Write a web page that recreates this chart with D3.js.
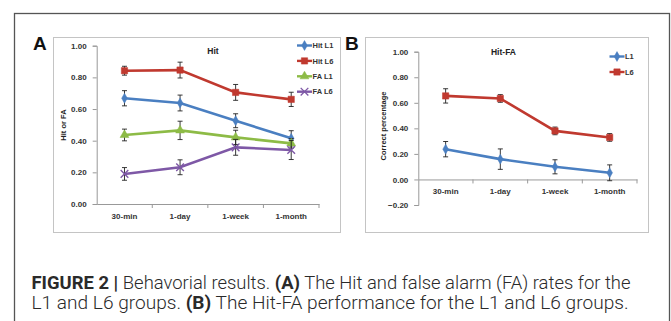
<!DOCTYPE html>
<html><head><meta charset="utf-8">
<script src="https://cdn.jsdelivr.net/npm/d3@7"></script>
<style>body{margin:0;background:#fff}svg{display:block}</style>
</head><body><svg id="c" width="671" height="321"></svg>
<script>
const categories = ["30-min","1-day","1-week","1-month"];
const yTicksA = [0,0.2,0.4,0.6,0.8,1.0];
const yTicksB = [-0.2,0,0.2,0.4,0.6,0.8,1.0];
const hitL1 = [0.668,0.638,0.526,0.415];
const hitL1Err = [0.048,0.05,0.044,0.048];
const hitL6 = [0.842,0.846,0.705,0.661];
const hitL6Err = [0.028,0.05,0.05,0.045];
const faL1 = [0.436,0.465,0.421,0.383];
const faL1Err = [0.037,0.058,0.045,0.03];
const faL6 = [0.19,0.232,0.358,0.341];
const faL6Err = [0.04,0.047,0.05,0.06];
const hfL1 = [0.237,0.159,0.099,0.052];
const hfL1Err = [0.06,0.08,0.055,0.062];
const hfL6 = [0.654,0.634,0.38,0.329];
const hfL6Err = [0.056,0.03,0.03,0.03];

const svg = d3.select("#c");
const FONT = "Liberation Sans, Arial, sans-serif";
const CAPFONT = "Roboto, Liberation Sans, sans-serif";
// outer frame
svg.append("rect").attr("x",14.5).attr("y",13.5).attr("width",655).attr("height",330)
  .attr("fill","none").attr("stroke","#555").attr("stroke-width",1.3);

const COL = {blue:"#4a7fc1", red:"#c0392f", green:"#8dbb46", purple:"#7e58a6"};

function symbolPath(kind){
  if(kind==="diamond") return d3.symbol().type(d3.symbolDiamond).size(28)();
  if(kind==="square") return d3.symbol().type(d3.symbolSquare).size(40)();
  if(kind==="triangle") return d3.symbol().type(d3.symbolTriangle).size(34)();
  return d3.symbol().type(d3.symbolTimes).size(40)();
}

function panel(opt){
  const g = svg.append("g");
  g.append("rect").attr("x",opt.box[0]+0.5).attr("y",opt.box[1]+0.5).attr("width",opt.box[2]).attr("height",opt.box[3])
    .attr("fill","#fff").attr("stroke","#c4c4c4").attr("stroke-width",1);
  svg.append("text").attr("x",opt.letter[0]).attr("y",opt.letter[1]).text(opt.letterText)
    .attr("font-family",FONT).attr("font-weight","bold").attr("font-size",19).attr("fill","#111");
  const x = d3.scaleBand().domain(categories).range(opt.xr).paddingInner(0).paddingOuter(0);
  const y = d3.scaleLinear().domain(opt.yd).range(opt.yr);
  // y axis
  const ya = g.append("g").attr("transform",`translate(${opt.xr[0]},0)`)
    .call(d3.axisLeft(y).tickValues(opt.yticks).tickFormat(d3.format(".2f")).tickSize(4).tickPadding(6));
  ya.select(".domain").attr("stroke","#999").attr("d",`M-4,${y(opt.yd[0])+0.5}H0.5V${y(opt.yd[1])+0.5}H-4`);
  ya.selectAll(".tick line").attr("stroke","#999");
  ya.selectAll("text").attr("font-family",FONT).attr("font-weight","bold").attr("font-size",8).attr("fill","#333");
  // x axis at y=0
  const xa = g.append("g").attr("transform",`translate(0,${y(0)})`)
    .call(d3.axisBottom(x).tickSize(0).tickPadding(opt.xpad));
  xa.select(".domain").attr("stroke","#999");
  xa.selectAll("text").attr("font-family",FONT).attr("font-weight","bold").attr("font-size",8).attr("fill","#333");
  xa.selectAll(".bt").data(categories.slice(1).concat(["end"])).enter().append("line")
    .attr("x1",(d,i)=> i<3 ? x(d) : opt.xr[1]).attr("x2",(d,i)=> i<3 ? x(d) : opt.xr[1])
    .attr("y1",0).attr("y2",4).attr("stroke","#999");
  // title
  g.append("text").attr("x",opt.title[0]).attr("y",opt.title[1]).attr("text-anchor","middle")
    .text(opt.titleText).attr("font-family",FONT).attr("font-weight","bold").attr("font-size",8.5).attr("fill","#222");
  // y label
  g.append("text").attr("transform",`translate(${opt.ylab[0]},${opt.ylab[1]}) rotate(-90)`).attr("text-anchor","middle")
    .text(opt.ylabText).attr("font-family",FONT).attr("font-weight","bold").attr("font-size",7.5).attr("fill","#222");
  // series
  opt.series.forEach(s=>{
    const pts = categories.map((c,i)=>({c, v:s.vals[i], e:s.err[i]}));
    const cx = d=> x(d.c)+x.bandwidth()/2;
    g.append("path").datum(pts).attr("fill","none").attr("stroke",s.color).attr("stroke-width",2.6)
      .attr("d", d3.line().x(cx).y(d=>y(d.v)));
    const eb = g.append("g");
    pts.forEach(d=>{
      const xx = cx(d);
      eb.append("line").attr("x1",xx).attr("x2",xx).attr("y1",y(d.v+d.e)).attr("y2",y(d.v-d.e)).attr("stroke","#222").attr("stroke-width",0.9);
      [d.v+d.e, d.v-d.e].forEach(v=> eb.append("line").attr("x1",xx-2.5).attr("x2",xx+2.5).attr("y1",y(v)).attr("y2",y(v)).attr("stroke","#222").attr("stroke-width",0.9));
    });
    g.selectAll(null).data(pts).enter().append("path")
      .attr("transform",d=>`translate(${cx(d)},${y(d.v)})`)
      .attr("d",symbolPath(s.marker))
      .attr("fill", s.marker==="x" ? "none" : s.color)
      .attr("stroke", s.color).attr("stroke-width", s.marker==="x" ? 1.4 : 0.5);
  });
  // legend
  opt.series.forEach((s,i)=>{
    const ly = opt.leg[1] + i*opt.legStep;
    g.append("line").attr("x1",opt.leg[0]).attr("x2",opt.leg[0]+15).attr("y1",ly).attr("y2",ly).attr("stroke",s.color).attr("stroke-width",2.4);
    g.append("path").attr("transform",`translate(${opt.leg[0]+7.5},${ly})`).attr("d",symbolPath(s.marker))
      .attr("fill", s.marker==="x" ? "none" : s.color).attr("stroke",s.color).attr("stroke-width", s.marker==="x"?1.3:0.5);
    g.append("text").attr("x",opt.leg[0]+15.5).attr("y",ly+2.7).text(s.name)
      .attr("font-family",FONT).attr("font-weight","bold").attr("font-size",7.5).attr("fill","#333");
  });
}

panel({
  box:[53,37,287,195], letter:[33,50], letterText:"A",
  xr:[96.7,319], yd:[0,1], yr:[204,45.7], yticks:yTicksA, xpad:9,
  title:[213,53.5], titleText:"Hit", ylab:[66,125], ylabText:"Hit or FA",
  leg:[297,45.5], legStep:15.4,
  series:[
    {name:"Hit L1", vals:hitL1, err:hitL1Err, color:COL.blue, marker:"diamond"},
    {name:"Hit L6", vals:hitL6, err:hitL6Err, color:COL.red, marker:"square"},
    {name:"FA L1", vals:faL1, err:faL1Err, color:COL.green, marker:"triangle"},
    {name:"FA L6", vals:faL6, err:faL6Err, color:COL.purple, marker:"x"}
  ]
});
panel({
  box:[365,37,283,195], letter:[345,50], letterText:"B",
  xr:[418.3,637], yd:[-0.2,1], yr:[205,51.7], yticks:yTicksB, xpad:9,
  title:[503.5,55], titleText:"Hit-FA", ylab:[386,126], ylabText:"Correct percentage",
  leg:[609.5,56.5], legStep:15.5,
  series:[
    {name:"L1", vals:hfL1, err:hfL1Err, color:COL.blue, marker:"diamond"},
    {name:"L6", vals:hfL6, err:hfL6Err, color:COL.red, marker:"square"}
  ]
});

// caption
const cap = [
  [["FIGURE 2 | ",true],["Behavorial results. ",false],["(A)",true],[" The Hit and false alarm (FA) rates for the",false]],
  [["L1 and L6 groups. ",false],["(B)",true],[" The Hit-FA performance for the L1 and L6 groups.",false]]
];
const capW = [599, 597];
cap.forEach((line,li)=>{
  const t = svg.append("text").attr("x",31.5).attr("y",288.5+li*20)
    .attr("font-family",CAPFONT).attr("font-size",17.5).attr("fill","#2a2a2a")
    .attr("textLength",capW[li]).attr("lengthAdjust","spacingAndGlyphs");
  line.forEach(([s,b])=> t.append("tspan").text(s).attr("font-weight",b?"bold":"300"));
});
</script></body></html>
